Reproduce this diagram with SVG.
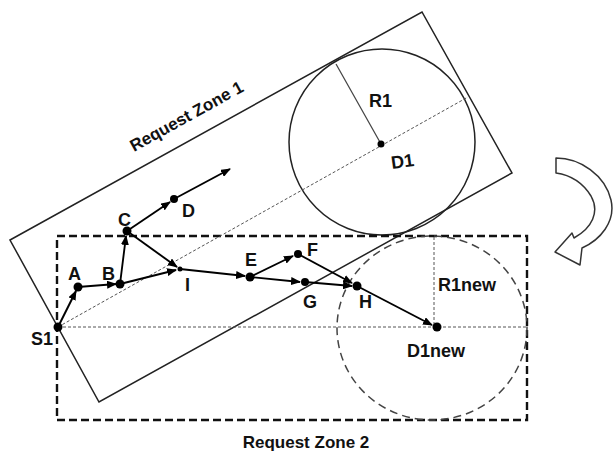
<svg xmlns="http://www.w3.org/2000/svg" width="613" height="454" viewBox="0 0 613 454">
<defs>
<marker id="ah" viewBox="0 0 10 8" refX="9" refY="4" markerWidth="10" markerHeight="8" markerUnits="userSpaceOnUse" orient="auto">
<path d="M0,0 L10,4 L0,8 Z" fill="#000"/>
</marker>
</defs>
<style>
.lbl{font-family:"Liberation Sans",Arial,sans-serif;font-weight:bold;font-size:18px;fill:#111}
.zl{font-size:17px}
.edge{stroke:#000;stroke-width:1.9;fill:none;marker-end:url(#ah)}
.dot{fill:#000}
.zone1{fill:none;stroke:#222;stroke-width:1.5}
.zone2{fill:none;stroke:#111;stroke-width:2.4;stroke-dasharray:8,4}
.dotted{stroke:#555;stroke-width:1;stroke-dasharray:3,2;fill:none}
</style>
<rect width="613" height="454" fill="#fff"/>

<g id="zone1">
<polygon class="zone1" points="10,240 422,12 512,173 99,402"/>
<text class="lbl zl" transform="translate(134,152) rotate(-29)">Request Zone 1</text>
</g>
<g id="circle1">
<circle cx="382" cy="142" r="93" fill="none" stroke="#222" stroke-width="1.5"/>
<line x1="381" y1="144" x2="336" y2="64" stroke="#444" stroke-width="1.2"/>
<text class="lbl" x="369" y="107">R1</text>
</g>
<g id="zone2">
<rect class="zone2" x="57" y="236" width="470" height="184"/>
<text class="lbl zl" x="306" y="448" text-anchor="middle">Request Zone 2</text>
</g>
<g id="circle2">
<ellipse cx="432" cy="328" rx="95" ry="92" fill="none" stroke="#444" stroke-width="1.5" stroke-dasharray="8,5"/>
<line class="dotted" x1="434" y1="237" x2="434" y2="327"/>
<text class="lbl" x="438" y="291">R1new</text>
</g>
<g id="axes">
<line class="dotted" x1="58" y1="327" x2="468" y2="97"/>
<line class="dotted" x1="58" y1="327" x2="526" y2="327"/>
</g>

<g id="connectors">
<line class="edge" x1="58" y1="327" x2="76" y2="291"/>
<line class="edge" x1="78" y1="287" x2="116" y2="284"/>
<line class="edge" x1="120" y1="284" x2="126" y2="236"/>
<line class="edge" x1="127" y1="231" x2="170" y2="202"/>
<line class="edge" x1="174" y1="199" x2="230" y2="169"/>
<line class="edge" x1="127" y1="231" x2="177" y2="267"/>
<line class="edge" x1="120" y1="284" x2="176" y2="270"/>
<line class="edge" x1="180" y1="269" x2="245" y2="276"/>
<line class="edge" x1="250" y1="277" x2="293" y2="256"/>
<line class="edge" x1="250" y1="277" x2="300" y2="282"/>
<line class="edge" x1="298" y1="254" x2="352" y2="283"/>
<line class="edge" x1="305" y1="282" x2="352" y2="286"/>
<line class="edge" x1="357" y1="286" x2="432" y2="325"/>
</g>

<g id="S1"><circle class="dot" cx="58" cy="327" r="4.5"/><text class="lbl" x="31" y="345">S1</text></g>
<g id="A"><circle class="dot" cx="78" cy="287" r="4.5"/><text class="lbl" x="68" y="280">A</text></g>
<g id="B"><circle class="dot" cx="120" cy="284" r="4.5"/><text class="lbl" x="102" y="280">B</text></g>
<g id="C"><circle class="dot" cx="127" cy="231" r="4.5"/><text class="lbl" x="118" y="226">C</text></g>
<g id="D"><circle class="dot" cx="174" cy="199" r="4"/><text class="lbl" x="182" y="217">D</text></g>
<g id="I"><circle class="dot" cx="180" cy="269" r="2.5"/><text class="lbl" x="185" y="291">I</text></g>
<g id="E"><circle class="dot" cx="250" cy="277" r="4.5"/><text class="lbl" x="245" y="266">E</text></g>
<g id="F"><circle class="dot" cx="298" cy="254" r="4"/><text class="lbl" x="307" y="256">F</text></g>
<g id="G"><circle class="dot" cx="305" cy="282" r="4"/><text class="lbl" x="303" y="308">G</text></g>
<g id="H"><circle class="dot" cx="357" cy="286" r="4.5"/><text class="lbl" x="359" y="308">H</text></g>
<g id="D1"><circle class="dot" cx="381" cy="144" r="3.5"/><text class="lbl" transform="translate(392,169) rotate(-8)">D1</text></g>
<g id="D1new"><circle class="dot" cx="437" cy="327" r="4.5"/><text class="lbl" x="407" y="357">D1new</text></g>

<g id="rotate-arrow">
<path d="M555,252 L572,233 L574,238 C592,228 600,212 591,196 C583,183 570,175 556,173 L556,158 C580,158 605,175 611,200 C616,222 600,240 582,248 L580,265 Z" fill="#fff" stroke="#333" stroke-width="1.5" stroke-linejoin="round"/>
</g>
</svg>
